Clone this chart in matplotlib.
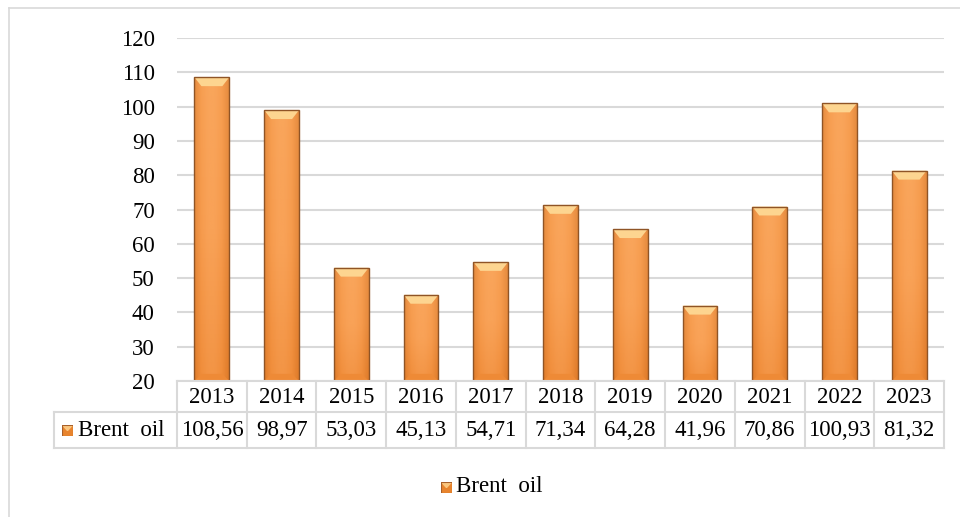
import numpy as np
import matplotlib
matplotlib.use('Agg')
import matplotlib.pyplot as plt
from matplotlib.colors import LinearSegmentedColormap
from matplotlib.lines import Line2D

years = ['2013', '2014', '2015', '2016', '2017', '2018', '2019', '2020', '2021', '2022', '2023']
brent = [108.56, 98.97, 53.03, 45.13, 54.71, 71.34, 64.28, 41.96, 70.86, 100.93, 81.32]
series_name = 'Brent  oil'
yticks = np.arange(20, 121, 10)

plt.rcParams['font.family'] = ['Liberation Serif', 'DejaVu Serif']
FS = 16.5

W, H = 960, 517
fig = plt.figure(figsize=(W / 100, H / 100), dpi=100)

def fx(px):
  return px / W

def fy(py):
  return 1 - py / H

# plot area in pixels
x0, x1, ytop, ybot = 177, 944, 38, 381
ax = fig.add_axes([fx(x0), fy(ybot), fx(x1) - fx(x0), fy(ytop) - fy(ybot)])
n = len(years)
ax.set_xlim(-0.5, n - 0.5)
ax.set_ylim(20, 120)
ax.set_yticks(yticks)
ax.set_yticklabels([str(v) for v in yticks], fontsize=FS)
ax.tick_params(axis='y', length=0, pad=16)
ax.set_xticks([])
for s in ax.spines.values():
  s.set_visible(False)
ax.grid(axis='y', color='#d9d9d9', linewidth=1.5)
ax.set_axisbelow(True)

side_cmap = LinearSegmentedColormap.from_list(
  'side', ['#d8782a', '#f59646', '#f9a257', '#f9a257', '#f59646', '#d8782a'])
vert_cmap = LinearSegmentedColormap.from_list('vert', ['#e9802a', '#f9a257', '#fbab62'])
xs = np.arange(n)
bw = 0.5
bars = ax.bar(xs, np.array(brent) - 20, bottom=20, width=bw, color='none',
              edgecolor='#8f5426', linewidth=1.0, zorder=3)
for b, v in zip(bars, brent):
  bx = b.get_x()
  g = np.linspace(0, 1, 64).reshape(1, -1)
  im = ax.imshow(g, extent=[bx, bx + bw, 20, v], aspect='auto', cmap=side_cmap,
                 origin='lower', zorder=2)
  im.set_clip_path(b)
  gv = np.linspace(0, 1, 64).reshape(-1, 1)
  im2 = ax.imshow(gv, extent=[bx, bx + bw, 20, v], aspect='auto', cmap=vert_cmap,
                  origin='lower', zorder=2.1, alpha=0.4)
  im2.set_clip_path(b)
  # bevel top and bottom
  bev = 2.6
  ax.fill([bx, bx + bw, bx + bw - 0.1, bx + 0.1], [v, v, v - bev, v - bev],
          color='#fdd590', zorder=2.5, linewidth=0)
  ax.fill([bx, bx + bw, bx + bw - 0.1, bx + 0.1], [20, 20, 20 + bev * 0.8, 20 + bev * 0.8],
          color='#ee8a36', zorder=2.5, linewidth=0)

# outer chart border
fig.add_artist(Line2D([fx(9), fx(9)], [fy(8), 0], color='#d9d9d9', lw=1.2))
fig.add_artist(Line2D([fx(9), 1], [fy(8), fy(8)], color='#d9d9d9', lw=1.2))

# data table
tc = '#d9d9d9'
r0, r1, r2 = 381, 412, 448
tl = 54
cw = (x1 - x0) / n
fig.add_artist(Line2D([fx(x0), fx(x1)], [fy(r0), fy(r0)], color=tc, lw=1.5))
fig.add_artist(Line2D([fx(tl), fx(x1)], [fy(r1), fy(r1)], color=tc, lw=1.5))
fig.add_artist(Line2D([fx(tl), fx(x1)], [fy(r2), fy(r2)], color=tc, lw=1.5))
fig.add_artist(Line2D([fx(tl), fx(tl)], [fy(r1), fy(r2)], color=tc, lw=1.5))
for i in range(n + 1):
  xp = x0 + i * cw
  fig.add_artist(Line2D([fx(xp), fx(xp)], [fy(r0), fy(r2)], color=tc, lw=1.5))
for i, (yr, v) in enumerate(zip(years, brent)):
  xc = x0 + (i + 0.5) * cw
  fig.text(fx(xc), fy((r0 + r1) / 2 + 1), yr, ha='center', va='center', fontsize=FS)
  fig.text(fx(xc), fy((r1 + r2) / 2 + 1), f'{v:.2f}'.replace('.', ','),
           ha='center', va='center', fontsize=FS)

def legend_key(px, py, size=11):
  kax = fig.add_axes([fx(px), fy(py + size / 2), fx(size), size / H])
  kax.axis('off')
  kax.set_xlim(0, 1)
  kax.set_ylim(0, 1)
  kax.fill([0, 1, 1, 0], [0, 0, 1, 1], color='#e8842e')
  kax.fill([0, 1, 0.5], [1, 1, 0.45], color='#fbc77f')
  kax.plot([0, 1, 1, 0, 0], [0, 0, 1, 1, 0], color='#a8602a', lw=0.8)

legend_key(62, (r1 + r2) / 2)
fig.text(fx(78), fy((r1 + r2) / 2 + 1), series_name, ha='left', va='center', fontsize=FS)

legend_key(441, 487)
fig.text(fx(456), fy(487), series_name, ha='left', va='center', fontsize=FS)

fig.savefig('out.png', dpi=100)
